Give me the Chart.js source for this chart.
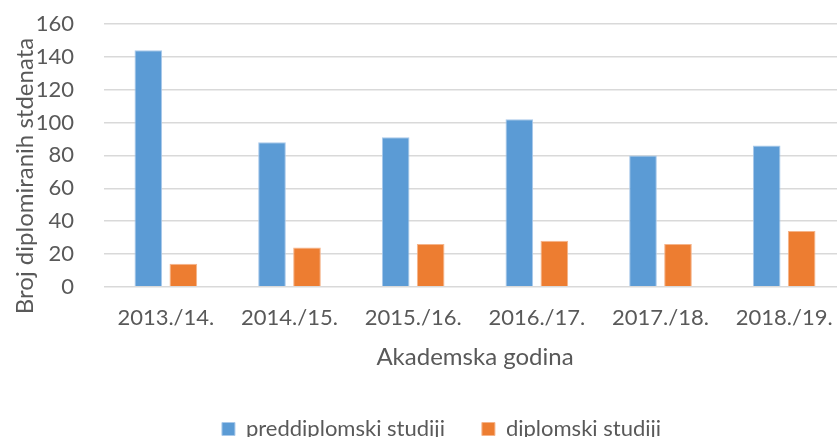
<!DOCTYPE html>
<html>
<head>
<meta charset="utf-8">
<script src="https://cdn.jsdelivr.net/npm/chart.js@4/dist/chart.umd.min.js"></script>
<style>
  html, body { margin: 0; padding: 0; background: #fff; overflow: hidden; }
  /* graf je malo veci od prozora - desni rub je odrezan kao na slici */
  #wrap { width: 846px; height: 450px; }
</style>
</head>
<body>
<div id="wrap"><canvas id="grafikon"></canvas></div>
<script>
const godine = ['2013./14.', '2014./15.', '2015./16.', '2016./17.', '2017./18.', '2018./19.'];
const preddiplomski = [144, 88, 91, 102, 80, 86];
const diplomski = [14, 24, 26, 28, 26, 34];
const yTicks = [0, 20, 40, 60, 80, 100, 120, 140, 160];
const yNaslov = 'Broj diplomiranih stdenata';
const xNaslov = 'Akademska godina';

const tekst = '#595959';
const font = 'Lato';

// naslov y osi - pomaknut prema dolje kao u Excelu
const yNaslovPlugin = {
    id: 'yNaslov',
    afterDraw(chart) {
        const c = chart.ctx;
        c.save();
        c.translate(25, 176);
        c.rotate(-Math.PI / 2);
        c.fillStyle = tekst;
        c.font = '24px ' + font;
        c.textAlign = 'center';
        c.textBaseline = 'middle';
        c.fillText(yNaslov, 0, 0);
        c.restore();
    }
};

const ctx = document.getElementById('grafikon').getContext('2d');
new Chart(ctx, {
    type: 'bar',
    data: {
        labels: godine,
        datasets: [{
            label: 'preddiplomski studiji',
            data: preddiplomski,
            backgroundColor: '#5b9bd5',
            borderColor: '#a9c9ea',
            borderWidth: 1,
            categoryPercentage: 0.566,
            barPercentage: 0.79
        }, {
            label: 'diplomski studiji',
            data: diplomski,
            backgroundColor: '#ed7d31',
            borderColor: '#f5b48a',
            borderWidth: 1,
            categoryPercentage: 0.566,
            barPercentage: 0.79
        }]
    },
    plugins: [yNaslovPlugin],
    options: {
        responsive: true,
        maintainAspectRatio: false,
        animation: false,
        layout: { padding: { top: 24, right: 0, left: 37, bottom: 0 } },
        plugins: {
            tooltip: { enabled: false },
            legend: {
                position: 'bottom',
                labels: {
                    color: tekst,
                    font: { family: font, size: 22 },
                    boxWidth: 13,
                    boxHeight: 13,
                    padding: 37
                }
            }
        },
        scales: {
            x: {
                afterFit: (axis) => { axis.paddingLeft = 0; axis.paddingRight = 0; },
                grid: { display: false, drawTicks: false },
                border: { display: false },
                ticks: { color: tekst, font: { family: font, size: 22 }, padding: 18 },
                title: {
                    display: true,
                    text: xNaslov,
                    color: tekst,
                    font: { family: font, size: 24 },
                    padding: { top: -6, bottom: 9 }
                }
            },
            y: {
                min: 0,
                max: 160,
                afterBuildTicks: (axis) => { axis.ticks = yTicks.map(v => ({ value: v })); },
                afterFit: (axis) => { axis.width = 67; axis.paddingTop = 0; axis.paddingBottom = 0; },
                grid: { color: '#d9d9d9', lineWidth: 1.5, drawTicks: false },
                border: { display: false },
                ticks: { color: tekst, font: { family: font, size: 22 }, padding: 30 }
            }
        }
    }
});
</script>
</body>
</html>
